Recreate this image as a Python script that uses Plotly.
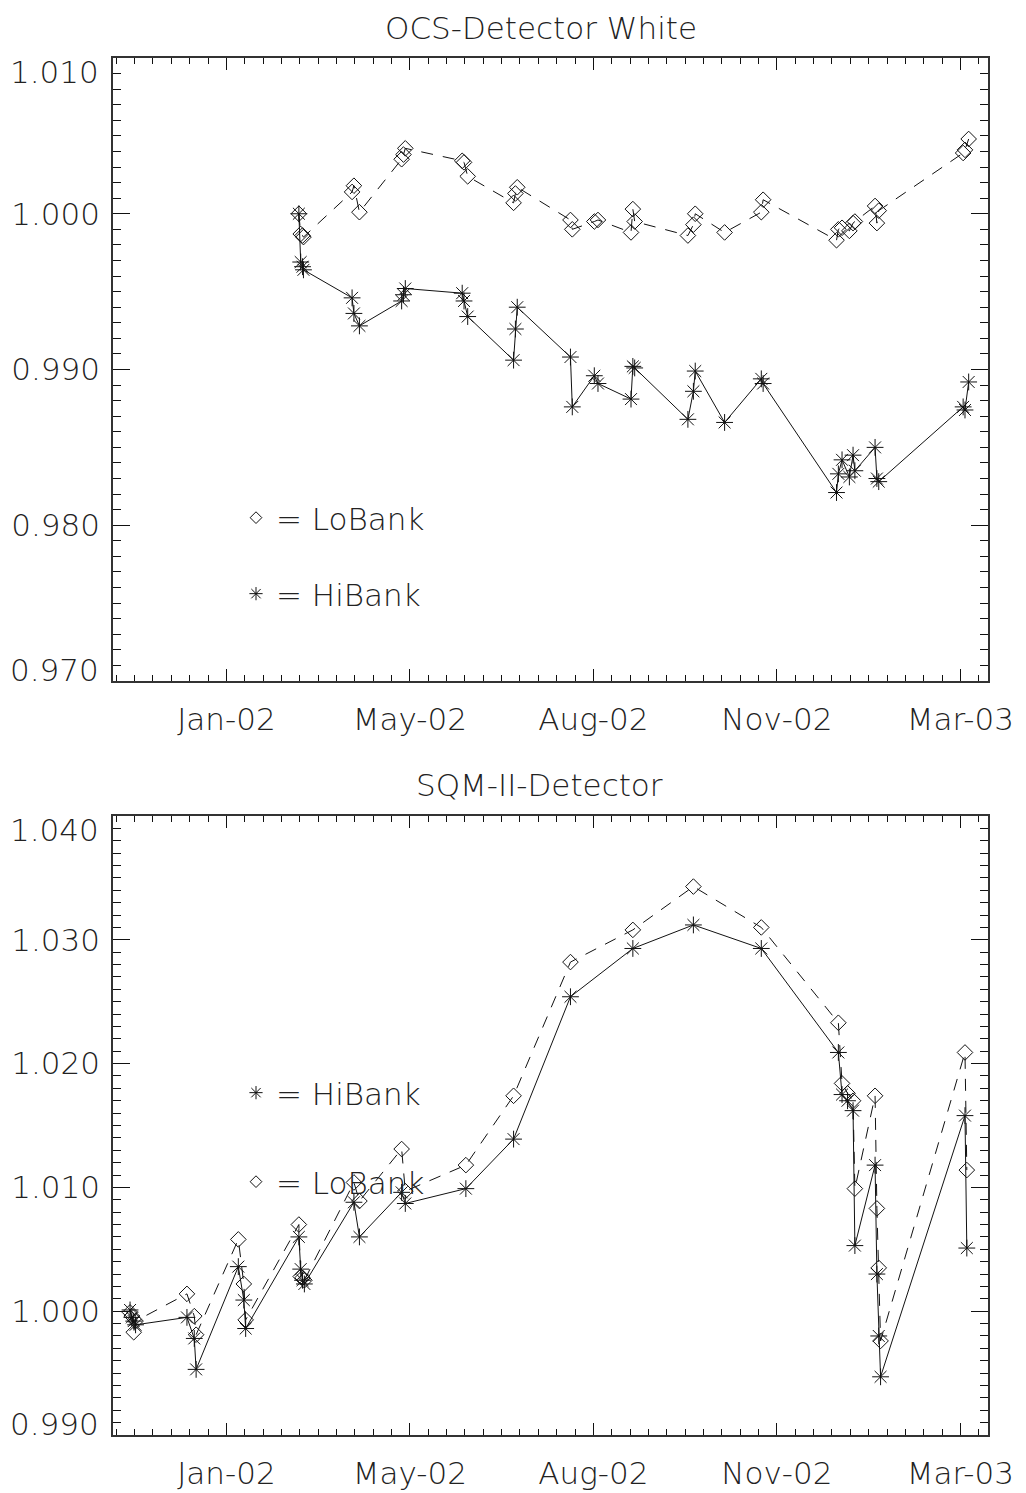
import plotly.graph_objects as go

# ---------------- data: OCS-Detector White (top panel) ----------------
ocs_dates = [
    "2002-03-06", "2002-03-07", "2002-03-08", "2002-03-08 12:00",
    "2002-04-04", "2002-04-05", "2002-04-08",
    "2002-05-01", "2002-05-02", "2002-05-03",
    "2002-06-03", "2002-06-04", "2002-06-06",
    "2002-07-01", "2002-07-02", "2002-07-03",
    "2002-08-01", "2002-08-02", "2002-08-14", "2002-08-16",
    "2002-09-03", "2002-09-04", "2002-09-05",
    "2002-10-04", "2002-10-07", "2002-10-08", "2002-10-24",
    "2002-11-13", "2002-11-14",
    "2002-12-24", "2002-12-25", "2002-12-27", "2002-12-31", "2003-01-02", "2003-01-03",
    "2003-01-14", "2003-01-15", "2003-01-16",
    "2003-03-03", "2003-03-04", "2003-03-06",
]
ocs_lo = [
    1.0000, 0.9987, 0.9986, 0.9985,
    1.0014, 1.0018, 1.0001,
    1.0035, 1.0038, 1.0042,
    1.0034, 1.0033, 1.0024,
    1.0007, 1.0013, 1.0017,
    0.9996, 0.9990, 0.9995, 0.9996,
    0.9988, 1.0003, 0.9995,
    0.9986, 0.9993, 1.0000, 0.9988,
    1.0001, 1.0009,
    0.9983, 0.9990, 0.9991, 0.9989, 0.9994, 0.9995,
    1.0005, 0.9994, 1.0002,
    1.0039, 1.0041, 1.0048,
]
ocs_hi = [
    1.0000, 0.9969, 0.9966, 0.9964,
    0.9946, 0.9936, 0.9928,
    0.9944, 0.9948, 0.9952,
    0.9949, 0.9944, 0.9934,
    0.9906, 0.9926, 0.9940,
    0.9908, 0.9876, 0.9896, 0.9891,
    0.9881, 0.9902, 0.9901,
    0.9868, 0.9886, 0.9899, 0.9866,
    0.9894, 0.9891,
    0.9821, 0.9833, 0.9842, 0.9831, 0.9845, 0.9835,
    0.9850, 0.9830, 0.9828,
    0.9876, 0.9874, 0.9892,
]

# ---------------- data: SQM-II-Detector (bottom panel) ----------------
sqm_dates = [
    "2001-12-04", "2001-12-05", "2001-12-06", "2001-12-07",
    "2002-01-04", "2002-01-08", "2002-01-09",
    "2002-02-01", "2002-02-04", "2002-02-05",
    "2002-03-06", "2002-03-07", "2002-03-08", "2002-03-09",
    "2002-04-05", "2002-04-08",
    "2002-05-01", "2002-05-03",
    "2002-06-05", "2002-07-01", "2002-08-01", "2002-09-04", "2002-10-07", "2002-11-13",
    "2002-12-25", "2002-12-27", "2002-12-30", "2003-01-02", "2003-01-03",
    "2003-01-14", "2003-01-15", "2003-01-16", "2003-01-17",
    "2003-03-04", "2003-03-05",
]
sqm_hi = [
    1.0001, 0.9995, 0.9992, 0.9989,
    0.9995, 0.9978, 0.9953,
    1.0036, 1.0009, 0.9986,
    1.0060, 1.0034, 1.0025, 1.0022,
    1.0088, 1.0060,
    1.0096, 1.0087,
    1.0099, 1.0139, 1.0254, 1.0293, 1.0312, 1.0293,
    1.0209, 1.0175, 1.0170, 1.0162, 1.0053,
    1.0118, 1.0030, 0.9980, 0.9947,
    1.0158, 1.0051,
]
sqm_lo = [
    0.9999, 0.9996, 0.9983, 0.9992,
    1.0014, 0.9996, 0.9981,
    1.0058, 1.0022, 0.9993,
    1.0070, 1.0028, 1.0027, 1.0025,
    1.0104, 1.0089,
    1.0131, 1.0097,
    1.0118, 1.0174, 1.0282, 1.0308, 1.0343, 1.0310,
    1.0233, 1.0184, 1.0176, 1.0170, 1.0099,
    1.0174, 1.0083, 1.0035, 0.9976,
    1.0209, 1.0114,
]

titles = ["OCS-Detector White", "SQM-II-Detector"]
x_range = ["2001-11-24 17:00", "2003-03-16 13:00"]
x_tick0 = "2002-01-25 12:00"   # Julian day 2452300, ticks every 100 days
ocs_yticks = [0.970, 0.980, 0.990, 1.000, 1.010]
sqm_yticks = [0.990, 1.000, 1.010, 1.020, 1.030, 1.040]

DAY = 86400000
FONT = dict(family="DejaVu Sans", size=31, color="#222222", weight=200)
INK = "#111111"

fig = go.Figure()

lo_style = dict(mode="lines+markers",
                line=dict(color=INK, width=1, dash="12px,10px"),
                marker=dict(symbol="diamond-open", size=12, color=INK,
                            line=dict(color=INK, width=1)))
hi_style = dict(mode="lines+markers",
                line=dict(color=INK, width=1),
                marker=dict(symbol="asterisk-open", size=14, color=INK,
                            line=dict(color=INK, width=1)))

fig.add_trace(go.Scatter(x=ocs_dates, y=ocs_lo, xaxis="x", yaxis="y",
                         showlegend=False, **lo_style))
fig.add_trace(go.Scatter(x=ocs_dates, y=ocs_hi, xaxis="x", yaxis="y",
                         showlegend=False, **hi_style))
fig.add_trace(go.Scatter(x=sqm_dates, y=sqm_lo, xaxis="x2", yaxis="y2",
                         showlegend=False, **lo_style))
fig.add_trace(go.Scatter(x=sqm_dates, y=sqm_hi, xaxis="x2", yaxis="y2",
                         showlegend=False, **hi_style))

# legend-only key entries (symbol + "= name"), one legend each
def key(symbol, size, name, legend):
    fig.add_trace(go.Scatter(x=[None], y=[None], mode="markers", name=name,
                             legend=legend, showlegend=True,
                             marker=dict(symbol=symbol, size=size, color=INK,
                                         line=dict(color=INK, width=1))))

key("diamond-open", 9, "= LoBank", "legend")
key("asterisk-open", 11, "= HiBank", "legend2")
key("asterisk-open", 11, "= HiBank", "legend3")
key("diamond-open", 9, "= LoBank", "legend4")

# the page body adds an 8px offset; size the figure so that the plot lands
# where the reference has it
OFF = 8
W = 1026 - OFF
H = 1493 - OFF
L, R = 113 - OFF, 38
T, B = 50, 58
PH = H - T - B
PW = W - L - R
def py(pix):
    return (H - B - (pix - OFF)) / PH
def px(pix):
    return (pix - OFF - L) / PW

top_dom = [py(681), 1.0]
bot_dom = [0.0, py(816)]

def xaxis(domain_anchor):
    return dict(type="date", range=x_range, anchor=domain_anchor, automargin=False,
                tickmode="linear", tick0=x_tick0, dtick=100 * DAY,
                tickformat="%b-%y", ticks="inside", ticklen=12, tickwidth=1,
                tickcolor=INK, showline=True, linecolor="#333333", linewidth=1.5,
                mirror="ticks", showgrid=False, zeroline=False,
                ticklabelstandoff=10, tickfont=FONT,
                minor=dict(ticks="inside", ticklen=6, tickwidth=1, tickcolor=INK,
                           tick0=x_tick0, dtick=10 * DAY, showgrid=False))

def yaxis(ticks, domain, anchor):
    inner = ticks[1:-1]   # edge labels are drawn as annotations (nudged inward)
    return dict(range=[ticks[0], ticks[-1]], domain=domain, anchor=anchor,
                automargin=False, tickmode="array", tickvals=inner,
                ticktext=[f"{v:.3f}" for v in inner],
                ticks="inside", ticklen=17, tickwidth=1,
                tickcolor=INK, showline=True, linecolor="#333333", linewidth=1.5,
                mirror="ticks", showgrid=False, zeroline=False,
                ticklabelstandoff=5, tickfont=FONT,
                minor=dict(tickmode="linear", tick0=ticks[0], dtick=0.001,
                           ticks="inside", ticklen=8, tickwidth=1, tickcolor=INK,
                           showgrid=False))

def edge_labels(ticks, yref):
    out = []
    for v, shift in ((ticks[-1], -14), (ticks[0], 11)):
        out.append(dict(text=f"{v:.3f}", x=0, xref="paper", y=v, yref=yref,
                        xanchor="right", yanchor="middle", xshift=-12, yshift=shift,
                        showarrow=False, font=FONT))
    return out

leg_common = dict(bgcolor="rgba(0,0,0,0)", font=FONT, xanchor="left",
                  yanchor="middle", itemsizing="trace", borderwidth=0)
LX = px(236)

annotations = [
    dict(text=titles[0], x=px(541), y=py(28), xref="paper", yref="paper",
         showarrow=False, xanchor="center", yanchor="middle", font=FONT),
    dict(text=titles[1], x=px(539), y=py(785), xref="paper", yref="paper",
         showarrow=False, xanchor="center", yanchor="middle", font=FONT),
]
annotations += edge_labels(ocs_yticks, "y")
annotations += edge_labels(sqm_yticks, "y2")

fig.update_layout(
    width=W, height=H,
    margin=dict(l=L, r=R, t=T, b=B, autoexpand=False),
    paper_bgcolor="white", plot_bgcolor="white",
    font=FONT,
    xaxis=xaxis("y"),
    yaxis=yaxis(ocs_yticks, top_dom, "x"),
    xaxis2=xaxis("y2"),
    yaxis2=yaxis(sqm_yticks, bot_dom, "x2"),
    legend=dict(x=LX, y=py(518), **leg_common),
    legend2=dict(x=LX, y=py(594), **leg_common),
    legend3=dict(x=LX, y=py(1093), **leg_common),
    legend4=dict(x=LX, y=py(1182), **leg_common),
    annotations=annotations,
)

fig.write_html("out.html")
